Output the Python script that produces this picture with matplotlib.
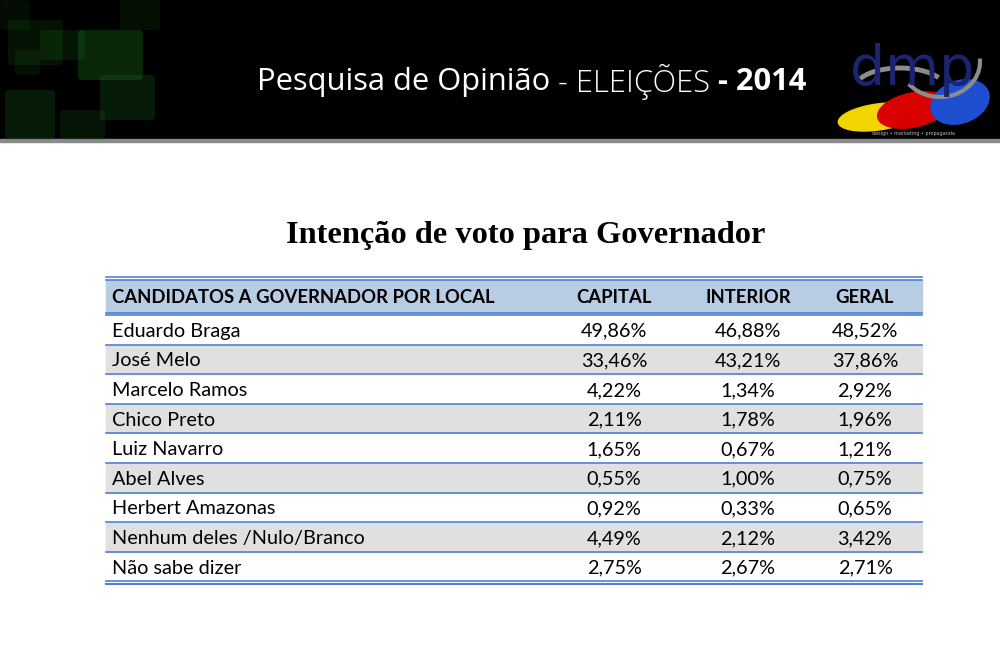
import matplotlib
matplotlib.use("Agg")
import matplotlib.pyplot as plt
from matplotlib.patches import Rectangle, Ellipse, Arc, FancyBboxPatch

# ---- data ----
banner_parts = ["Pesquisa de Opinião", " - ELEIÇÕES", " - 2014"]
title = "Intenção de voto para Governador"
header = ["CANDIDATOS A GOVERNADOR POR LOCAL", "CAPITAL", "INTERIOR", "GERAL"]
candidates = ["Eduardo Braga", "José Melo", "Marcelo Ramos", "Chico Preto",
              "Luiz Navarro", "Abel Alves", "Herbert Amazonas",
              "Nenhum deles /Nulo/Branco", "Não sabe dizer"]
capital = [49.86, 33.46, 4.22, 2.11, 1.65, 0.55, 0.92, 4.49, 2.75]
interior = [46.88, 43.21, 1.34, 1.78, 0.67, 1.00, 0.33, 2.12, 2.67]
geral = [48.52, 37.86, 2.92, 1.96, 1.21, 0.75, 0.65, 3.42, 2.71]

def fmt(v):
    return f"{v:.2f}".replace(".", ",") + "%"

fig = plt.figure(figsize=(10, 6.67), dpi=100)
ax = fig.add_axes([0, 0, 1, 1])
ax.set_xlim(0, 1000)
ax.set_ylim(667, 0)
ax.axis("off")

# ---- banner ----
ax.add_patch(Rectangle((0, 0), 1000, 140, color="black", zorder=0))
ax.add_patch(Rectangle((0, 139), 1000, 3, color="#8a8a8a", zorder=1))
greens = [(8, 20, 55, 45, 0.18), (40, 30, 45, 30, 0.2), (78, 30, 65, 50, 0.35),
          (15, 50, 25, 25, 0.15), (100, 75, 55, 45, 0.25), (5, 90, 50, 50, 0.25),
          (60, 110, 45, 30, 0.2), (120, 0, 40, 30, 0.15), (0, 0, 30, 30, 0.12)]
for x, y, w, h, a in greens:
    ax.add_patch(FancyBboxPatch((x, y), w, h, boxstyle="round,pad=0,rounding_size=4",
                                facecolor="#1a6e1a", edgecolor="none", alpha=a, zorder=1))

bfs = 22.2
t1 = ax.text(257, 82, banner_parts[0], color="white", fontsize=bfs, family="Open Sans",
             va="center", ha="left", zorder=3)
t2 = ax.annotate(banner_parts[1], xy=(1, 0.5), xycoords=t1, va="center", ha="left",
                 color="white", fontsize=bfs, family="Open Sans", fontweight="light", zorder=3)
t3 = ax.annotate(banner_parts[2], xy=(1, 0.5), xycoords=t2, va="center", ha="left",
                 color="white", fontsize=bfs, family="Open Sans", fontweight="bold", zorder=3)

# logo
ax.add_patch(Ellipse((878, 117), 80, 26, angle=-8, color="#f2d500", zorder=2))
ax.add_patch(Ellipse((913, 110), 72, 34, angle=-12, color="#d90000", zorder=2))
ax.add_patch(Ellipse((960, 102), 60, 42, angle=-20, color="#1d4fd0", zorder=2))
ax.add_patch(Arc((900, 88), 90, 40, theta1=190, theta2=345, color="#8c8c8c", lw=3.5, zorder=3))
ax.add_patch(Arc((940, 62), 80, 70, theta1=-5, theta2=145, color="#8c8c8c", lw=3, zorder=3))
ax.text(912, 70, "dmp", color="#1c2370", fontsize=40, family="DejaVu Sans",
        ha="center", va="center", zorder=4)
ax.text(913, 134, "design • marketing • propaganda", color="#bbbbbb", fontsize=3.5,
        ha="center", va="center", zorder=4)

# ---- title ----
ax.text(526, 235, title, fontsize=23.3, family="Liberation Serif", fontweight="bold",
        ha="center", va="center", color="black")

# ---- table ----
left, right = 106, 922
top = 280
header_h = 33
row_h = 29.6
blue = "#4f81d6"
ax.add_patch(Rectangle((left, top), right - left, header_h, color="#b8cce4", zorder=1))
for yy in (top - 3, top):
    ax.plot([left, right], [yy, yy], color=blue, lw=1.2, zorder=2)
for yy in (top + header_h, top + header_h + 2):
    ax.plot([left, right], [yy, yy], color=blue, lw=1.2, zorder=2)

col_x = [112, 614, 748, 865]
hfs = 13.3
fs = 14.3
ax.text(col_x[0], top + header_h / 2 + 1, header[0], fontsize=hfs, family="Lato",
        fontweight="bold", ha="left", va="center", color="black", zorder=3)
for cx, h in zip(col_x[1:], header[1:]):
    ax.text(cx, top + header_h / 2 + 1, h, fontsize=hfs, family="Lato", fontweight="bold",
            ha="center", va="center", color="black", zorder=3)

y0 = top + header_h + 2
for i, name in enumerate(candidates):
    ytop = y0 + i * row_h
    if i % 2 == 1:
        ax.add_patch(Rectangle((left, ytop), right - left, row_h, color="#e0e0e0", zorder=1))
    yc = ytop + row_h / 2 + 1.5
    ax.text(col_x[0], yc, name, fontsize=fs, family="Lato", ha="left", va="center",
            color="black", zorder=3)
    for cx, vals in zip(col_x[1:], (capital, interior, geral)):
        ax.text(cx, yc, fmt(vals[i]), fontsize=fs, family="Lato", ha="center",
                va="center", color="black", zorder=3)
    ybot = ytop + row_h
    ax.plot([left, right], [ybot, ybot], color=blue, lw=1.2, zorder=2)
ybot = y0 + len(candidates) * row_h
ax.plot([left, right], [ybot + 2.5, ybot + 2.5], color=blue, lw=1.5, zorder=2)

fig.savefig("out.png", dpi=100, facecolor="white")
